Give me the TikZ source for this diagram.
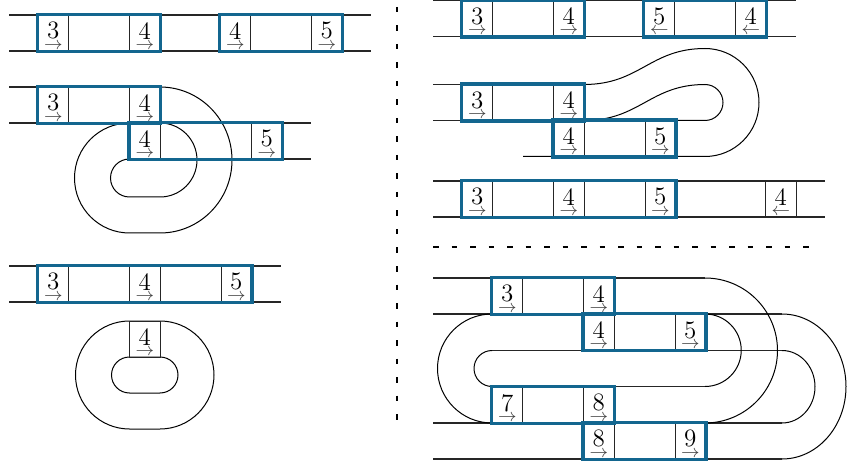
\documentclass[tikz,border=0pt]{standalone}
\usepackage{amsmath}
\usetikzlibrary{fit}
\definecolor{accent}{HTML}{13668F}
\definecolor{ink}{HTML}{262626}
\tikzset{
  sqcell/.style={draw=ink,line width=0.5pt,minimum width=15.25pt,minimum height=18pt,inner sep=0pt},
  blk/.style={draw=accent,line width=1.7pt,inner sep=0pt},
  track/.style={draw=ink,line width=0.6pt},
  wire/.style={draw=black,line width=0.5pt},
  divider/.style={draw=black,line width=0.55pt,dash pattern=on 2.75pt off 6.5pt}}
% digit over a direction arrow
\newcommand{\mk}[2]{\vbox{\offinterlineskip\kern2.9pt
  \hbox to 9.5pt{\hss\fontsize{12.5}{12.5}\selectfont #1\hss}\kern1.6pt
  \hbox to 9.5pt{\hss\fontsize{9.5}{9.5}\selectfont\color{black!75}$#2$\hss}\kern0pt}}
\newcommand{\fw}[1]{\mk{#1}{\rightarrow}}
\newcommand{\bw}[1]{\mk{#1}{\leftarrow}}

\begin{document}
\begin{tikzpicture}[x=0.5pt,y=-0.5pt]
\useasboundingbox (0,0) rectangle (847,465);
% separators
\draw[divider] (397,7) -- (397,432);
\draw[divider] (433,247) -- (820,247);

% left, top: two windows on one strip
\draw[track] (9,15) -- (371,15) (9,51) -- (371,51);
\node[sqcell] (a3) at (53.25,33) {\fw{3}};
\node[sqcell] (a4) at (144.75,33) {\fw{4}};
\node[sqcell] (b4) at (235.25,33) {\fw{4}};
\node[sqcell] (b5) at (326.75,33) {\fw{5}};
\node[blk,fit=(a3)(a4)] (wa) {};
\node[blk,fit=(b4)(b5)] (wb) {};

% left, middle: strip folded under itself
\draw[track] (9,87) -- (160,87) (9,123) -- (160,123);
\draw[track] (129.5,123) -- (311,123) (129.5,159) -- (311,159);
\draw[wire] (160,87) arc[start angle=-90,end angle=90,x radius=72,y radius=73]
  -- (129.5,233) arc[start angle=90,end angle=270,radius=55];
\draw[wire] (160,123) arc[start angle=-90,end angle=90,radius=37]
  -- (129.5,197) arc[start angle=90,end angle=270,radius=19];
\node[sqcell] (c3) at (53.25,105) {\fw{3}};
\node[sqcell] (c4) at (144.75,105) {\fw{4}};
\node[sqcell] (d4) at (144.75,141) {\fw{4}};
\node[sqcell] (d5) at (266.75,141) {\fw{5}};
\node[blk,fit=(c3)(c4)] (wc) {};
\node[blk,fit=(d4)(d5)] (wd) {};

% left, bottom: merged window and a closed ring
\draw[track] (9,266) -- (281,266) (9,302) -- (281,302);
\node[sqcell] (e3) at (53.25,284) {\fw{3}};
\node[sqcell] (e4) at (144.75,284) {\fw{4}};
\node[sqcell] (e5) at (236.25,284) {\fw{5}};
\node[blk,fit=(e3)(e5)] (we) {};
\draw[wire] (160,321) arc[start angle=-90,end angle=90,radius=54]
  -- (129.5,429) arc[start angle=90,end angle=270,radius=54] -- cycle;
\draw[wire] (160,357) arc[start angle=-90,end angle=90,radius=18]
  -- (129.5,393) arc[start angle=90,end angle=270,radius=18] -- cycle;
\node[sqcell] (f4) at (144.75,339) {\fw{4}};

% right, top: reversed window
\draw[track] (433,0.5) -- (796,0.5) (433,36.5) -- (796,36.5);
\node[sqcell] (g3) at (477.25,18.5) {\fw{3}};
\node[sqcell] (g4) at (568.75,18.5) {\fw{4}};
\node[sqcell] (h5) at (659.25,18.5) {\bw{5}};
\node[sqcell] (h4) at (750.75,18.5) {\bw{4}};
\node[blk,fit=(g3)(g4)] (wg) {};
\node[blk,fit=(h5)(h4)] (wh) {};

% right, second: twisted fold
\draw[track] (433,84.5) -- (584,84.5) (433,120.5) -- (584,120.5);
\draw[wire] (584,84.5) .. controls (640,84.5) and (650,48.5) .. (705,48.5)
  arc[start angle=-90,end angle=90,radius=54] -- (523,156.5);
\draw[wire] (584,120.5) .. controls (640,120.5) and (650,84.5) .. (705,84.5)
  arc[start angle=-90,end angle=90,radius=18] -- (553.5,120.5);
\node[sqcell] (i3) at (477.25,102.5) {\fw{3}};
\node[sqcell] (i4) at (568.75,102.5) {\fw{4}};
\node[sqcell] (j4) at (568.75,138.5) {\fw{4}};
\node[sqcell] (j5) at (660.25,138.5) {\fw{5}};
\node[blk,fit=(i3)(i4)] (wi) {};
\node[blk,fit=(j4)(j5)] (wj) {};

% right, third: merged window and a stray cell
\draw[track] (433,181) -- (825,181) (433,217) -- (825,217);
\node[sqcell] (k3) at (477.25,199) {\fw{3}};
\node[sqcell] (k4) at (568.75,199) {\fw{4}};
\node[sqcell] (k5) at (660.25,199) {\fw{5}};
\node[sqcell] (m4) at (780.75,199) {\bw{4}};
\node[blk,fit=(k3)(k5)] (wk) {};

% right, bottom: double fold
\draw[track] (433,278) -- (705,278) (433,314) -- (782,314);
\draw[track] (492,350.5) -- (782,350.5) (492,386.5) -- (705,386.5);
\draw[track] (433,423) -- (782,423) (433,459) -- (782,459);
\draw[wire] (705,278) arc[start angle=-90,end angle=90,radius=72.5];
\draw[wire] (705,314) arc[start angle=-90,end angle=90,radius=36.25];
\draw[wire] (782,314) arc[start angle=-90,end angle=90,x radius=64,y radius=72.5];
\draw[wire] (782,350.5) arc[start angle=-90,end angle=90,x radius=33,y radius=36.25];
\draw[wire] (492,314) arc[start angle=270,end angle=90,radius=54.5];
\draw[wire] (492,350.5) arc[start angle=270,end angle=90,radius=18];
\node[sqcell] (n3) at (507.25,296) {\fw{3}};
\node[sqcell] (n4) at (598.75,296) {\fw{4}};
\node[sqcell] (p4) at (598.75,332.25) {\fw{4}};
\node[sqcell] (p5) at (690.25,332.25) {\fw{5}};
\node[sqcell] (q7) at (507.25,405) {\fw{7}};
\node[sqcell] (q8) at (598.75,405) {\fw{8}};
\node[sqcell] (r8) at (598.75,441) {\fw{8}};
\node[sqcell] (r9) at (690.25,441) {\fw{9}};
\node[blk,fit=(n3)(n4)] (wn) {};
\node[blk,fit=(p4)(p5)] (wp) {};
\node[blk,fit=(q7)(q8)] (wq) {};
\node[blk,fit=(r8)(r9)] (wr) {};
\end{tikzpicture}
\end{document}
